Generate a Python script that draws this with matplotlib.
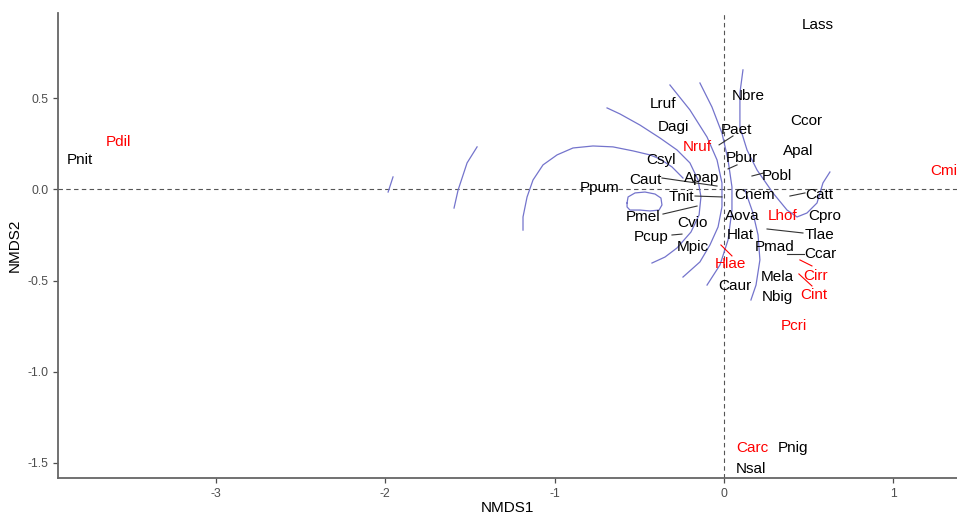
import matplotlib.pyplot as plt

# Gatunki: nazwy, pozycje etykiet (NMDS1, NMDS2) i kolor
species = ["Lass", "Pdil", "Pnit", "Cmi", "Nbre", "Lruf", "Dagi", "Paet", "Ccor", "Nruf",
           "Apal", "Pbur", "Csyl", "Pobl", "Caut", "Apap", "Ppum", "Cnem", "Catt", "Tnit",
           "Aova", "Lhof", "Cpro", "Pmel", "Cvio", "Hlat", "Tlae", "Pcup", "Mpic", "Pmad",
           "Ccar", "Hlae", "Mela", "Cirr", "Caur", "Nbig", "Cint", "Pcri", "Carc", "Pnig", "Nsal"]
nmds1 = [0.555, -3.575, -3.799, 1.297, 0.142, -0.360, -0.301, 0.071, 0.484, -0.159,
         0.437, 0.106, -0.372, 0.313, -0.466, -0.130, -0.732, 0.183, 0.560, -0.254,
         0.106, 0.348, 0.596, -0.478, -0.189, 0.094, 0.566, -0.431, -0.183, 0.301,
         0.566, 0.041, 0.313, 0.543, 0.065, 0.313, 0.531, 0.413, 0.165, 0.407, 0.159]
nmds2 = [0.904, 0.261, 0.162, 0.102, 0.514, 0.470, 0.343, 0.327, 0.376, 0.234,
         0.212, 0.173, 0.162, 0.074, 0.052, 0.063, 0.008, -0.030, -0.030, -0.041,
         -0.146, -0.146, -0.146, -0.151, -0.184, -0.250, -0.250, -0.261, -0.316, -0.316,
         -0.354, -0.409, -0.481, -0.475, -0.530, -0.591, -0.580, -0.750, -1.420, -1.420, -1.536]
red_species = ["Pdil", "Cmi", "Nruf", "Lhof", "Hlae", "Cirr", "Cint", "Pcri", "Carc"]

# Linie prowadzące (ggrepel): gatunek -> (x0, y0, x1, y1)
leaders = {
    "Paet": (-0.029, 0.245, 0.053, 0.294),
    "Pbur": (0.024, 0.113, 0.077, 0.135),
    "Pobl": (0.165, 0.074, 0.236, 0.091),
    "Caut": (-0.366, 0.063, -0.041, 0.019),
    "Tnit": (-0.171, -0.036, -0.012, -0.041),
    "Pmel": (-0.360, -0.135, -0.159, -0.091),
    "Catt": (0.389, -0.036, 0.478, -0.019),
    "Tlae": (0.254, -0.217, 0.466, -0.239),
    "Pcup": (-0.307, -0.250, -0.248, -0.245),
    "Ccar": (0.372, -0.354, 0.472, -0.354),
    "Hlae": (-0.018, -0.305, 0.047, -0.365),
    "Cirr": (0.448, -0.387, 0.519, -0.420),
    "Cint": (0.442, -0.464, 0.519, -0.530),
}

# Izolinie powierzchni (ordisurf)
contours = [
    # mała zamknięta pętla
    ([-0.572, -0.566, -0.525, -0.466, -0.407, -0.372, -0.366, -0.383, -0.437, -0.496, -0.555, -0.572, -0.572],
     [-0.074, -0.041, -0.019, -0.014, -0.025, -0.047, -0.085, -0.113, -0.118, -0.113, -0.113, -0.096, -0.074]),
    ([-1.186, -1.186, -1.162, -1.127, -1.068, -0.985, -0.891, -0.773, -0.655, -0.537, -0.437, -0.378, -0.307, -0.242],
     [-0.223, -0.151, -0.041, 0.052, 0.135, 0.190, 0.228, 0.239, 0.234, 0.212, 0.190, 0.168, 0.124, 0.063]),
    ([-0.690, -0.614, -0.496, -0.378, -0.277, -0.201, -0.153, -0.136, -0.147, -0.195, -0.277, -0.348, -0.425],
     [0.448, 0.415, 0.354, 0.283, 0.217, 0.146, 0.052, -0.041, -0.140, -0.234, -0.321, -0.371, -0.404]),
    ([-0.319, -0.201, -0.100, -0.041, -0.012, -0.012, -0.035, -0.083, -0.142, -0.242],
     [0.574, 0.437, 0.288, 0.162, 0.036, -0.096, -0.206, -0.305, -0.398, -0.481]),
    ([-0.142, -0.071, -0.012, 0.024, 0.047, 0.047, 0.024, -0.024, -0.100],
     [0.585, 0.453, 0.310, 0.162, 0.014, -0.113, -0.277, -0.415, -0.525]),
    ([0.112, 0.094, 0.094, 0.136, 0.195, 0.289, 0.372, 0.431, 0.490, 0.549, 0.584, 0.625],
     [0.657, 0.530, 0.343, 0.217, 0.107, -0.019, -0.113, -0.151, -0.129, -0.074, 0.036, 0.096]),
    ([0.124, 0.171, 0.201, 0.212, 0.189, 0.159],
     [-0.003, -0.129, -0.250, -0.387, -0.525, -0.607]),
    ([-1.593, -1.569, -1.516, -1.457],
     [-0.102, -0.003, 0.146, 0.234]),
    ([-1.982, -1.953],
     [-0.014, 0.069]),
]

plt.rcParams['font.family'] = ['Liberation Sans', 'DejaVu Sans']

fig = plt.figure(figsize=(9.57, 5.16), dpi=100)
ax = fig.add_axes([0.0606, 0.0736, 0.9394, 0.9014])

# linie odniesienia w zerze
ax.axhline(0, color="#555555", lw=0.8, ls=(0, (4, 3)), zorder=1)
ax.axvline(0, color="#555555", lw=0.8, ls=(0, (4, 3)), zorder=1)

# izolinie
for cx, cy in contours:
    ax.plot(cx, cy, color="#7474cc", lw=0.9, zorder=2)

# linie prowadzące
for name, (x0, y0, x1, y1) in leaders.items():
    col = "red" if name in red_species else "#333333"
    ax.plot([x0, x1], [y0, y1], color=col, lw=0.8, zorder=3)

# etykiety gatunków
for name, x, y in zip(species, nmds1, nmds2):
    col = "red" if name in red_species else "black"
    ax.text(x, y, name, color=col, fontsize=11, ha="center", va="center",
            clip_on=True, zorder=4)

ax.set_xlim(-3.93, 1.375)
ax.set_ylim(-1.585, 0.97)
ax.set_xticks([-3, -2, -1, 0, 1])
ax.set_xticklabels(["-3", "-2", "-1", "0", "1"])
ax.set_yticks([0.5, 0.0, -0.5, -1.0, -1.5])
ax.set_yticklabels(["0.5", "0.0", "-0.5", "-1.0", "-1.5"])
ax.set_xlabel("NMDS1", fontsize=11, labelpad=1)
ax.set_ylabel("NMDS2", fontsize=11, labelpad=4)

for side in ["top", "right"]:
    ax.spines[side].set_visible(False)
for side in ["left", "bottom"]:
    ax.spines[side].set_color("#666666")
    ax.spines[side].set_linewidth(1.3)
ax.tick_params(colors="#4d4d4d", labelsize=8.8, length=3.5, width=0.9)

fig.savefig("out.png", dpi=100)
